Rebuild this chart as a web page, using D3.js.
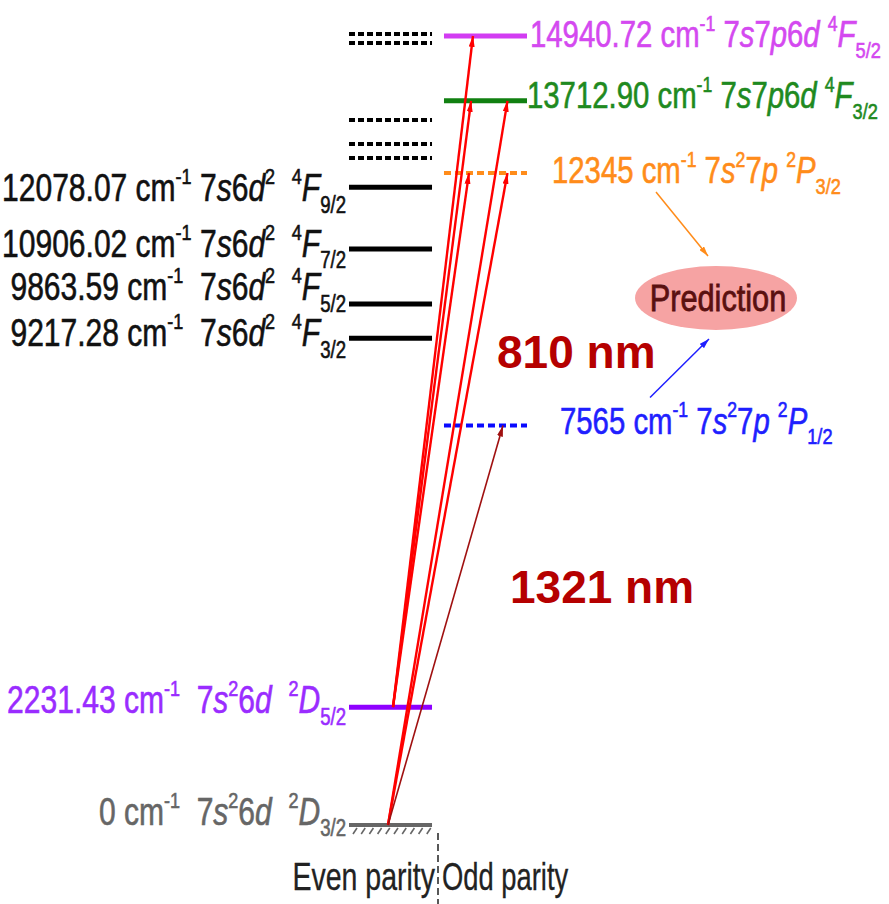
<!DOCTYPE html>
<html>
<head>
<meta charset="utf-8">
<script src="https://cdn.jsdelivr.net/npm/d3@7"></script>
<style>
  html, body { margin: 0; padding: 0; background: #fff; }
  svg { display: block; font-family: "Liberation Sans", Arial, Helvetica, sans-serif; }
  text { white-space: pre; }
</style>
</head>
<body>
<svg id="chart" width="889" height="904"></svg>
<script>
// ---- Level data (energies in cm^-1) ----
// Even-parity levels with term labels
const evenEnergies = [0, 2231.43, 9217.28, 9863.59, 10906.02, 12078.07];
const evenEnergyText = ["0", "2231.43", "9217.28", "9863.59", "10906.02", "12078.07"];
const evenTerms = [
  "  7*s*^{2}6*d*  ^{2}*D*_{3/2}",
  "  7*s*^{2}6*d*  ^{2}*D*_{5/2}",
  "  7*s*6*d*^{2}  ^{4}*F*_{3/2}",
  "  7*s*6*d*^{2}  ^{4}*F*_{5/2}",
  " 7*s*6*d*^{2}  ^{4}*F*_{7/2}",
  " 7*s*6*d*^{2}  ^{4}*F*_{9/2}"
];
// Further even-parity levels drawn without labels
const evenUnlabeled = [12630, 12895, 13350, 14808, 14978];

// Odd-parity levels; the two 7s²7p levels are predicted values
const oddEnergies = [7565, 12345, 13712.90, 14940.72];
const oddEnergyText = ["7565", "12345", "13712.90", "14940.72"];
const oddTerms = [
  " 7*s*^{2}7*p* ^{2}*P*_{1/2}",
  " 7*s*^{2}7*p* ^{2}*P*_{3/2}",
  " 7*s*7*p*6*d* ^{4}*F*_{3/2}",
  " 7*s*7*p*6*d* ^{4}*F*_{5/2}"
];
const oddPredicted = [true, true, false, false];

// Excitation steps (lower level -> upper level, cm^-1)
const transFrom = [2231.43, 2231.43, 2231.43, 0, 0, 0];
const transTo   = [14940.72, 13712.90, 12345, 13712.90, 12345, 7565];

// Wavelength annotations for the first-step lines
const wavelengthLabels = ["810 nm", "1321 nm"];
const parityLabels = ["Even parity", "Odd parity"];
const predictionLabel = "Prediction";

// ---- Styles ----
const evenColors = ["#666666", "#8f00ff", "#000", "#000", "#000", "#000"];
const evenTextColors = ["#666666", "#9a2cff", "#111", "#111", "#111", "#111"];
const evenLabelDy = [0, 6, 8, -4, 8, 14];
const oddColors = ["#0a0aff", "#ff8c1a", "#118011", "#d23cf2"];
const oddTextColors = ["#1f1fff", "#ff8c1a", "#1f8a1f", "#d449f0"];
const oddLabelDy = [8, 10, 7, 11];
const oddLabelX = [560, 552, 527, 530];

const svg = d3.select("#chart");
const y = d3.scaleLinear().domain([0, 14940.72]).range([825, 36]);
const col = d3.scaleBand().domain(["even", "odd"]).range([349, 527]).paddingInner(0.126);
const bw = col.bandwidth();
const ex0 = col("even"), ox0 = col("odd");

// Rich-text mini markup: *italic*, ^{sup}, _{sub}
function parseRich(str) {
  const segs = [];
  const re = /\*([^*]+)\*|\^\{([^}]+)\}|_\{([^}]+)\}|([^*^_]+)/g;
  let m;
  while ((m = re.exec(str))) {
    if (m[1]) segs.push({ t: m[1], it: true });
    else if (m[2]) segs.push({ t: m[2], pos: "sup" });
    else if (m[3]) segs.push({ t: m[3], pos: "sub" });
    else segs.push({ t: m[4] });
  }
  return segs;
}
function richText(parent, str, opt) {
  const F = opt.size;
  const g = parent.append("g")
    .attr("transform", `translate(${opt.x},${opt.y}) scale(${opt.sx},1)`);
  const t = g.append("text")
    .attr("text-anchor", opt.anchor || "start")
    .attr("font-size", F)
    .attr("fill", opt.color)
    .attr("stroke", opt.color)
    .attr("stroke-width", opt.weight == null ? 0.6 : opt.weight);
  let cur = 0;
  parseRich(str).forEach(s => {
    let target = 0, size = F;
    if (s.pos === "sup") { target = -0.45 * F; size = 0.6 * F; }
    if (s.pos === "sub") { target = 0.3 * F; size = 0.62 * F; }
    t.append("tspan")
      .attr("dy", target - cur)
      .attr("font-size", size)
      .attr("font-style", s.it ? "italic" : null)
      .text(s.t);
    cur = target;
  });
  return g;
}

// ---- Markers ----
const defs = svg.append("defs");
function marker(id, color, len, wid) {
  defs.append("marker").attr("id", id)
    .attr("markerUnits", "userSpaceOnUse")
    .attr("markerWidth", len).attr("markerHeight", wid)
    .attr("refX", len).attr("refY", wid / 2)
    .attr("orient", "auto")
    .append("path").attr("d", `M0,0L${len},${wid / 2}L0,${wid}Z`).attr("fill", color);
}
marker("ah-red", "#ff0000", 11, 6);
marker("ah-dred", "#a01010", 11, 6);
marker("ah-orange", "#ff8c1a", 10, 6);
marker("ah-blue", "#1f1fff", 10, 6);

// ---- Even-parity levels ----
evenUnlabeled.forEach(e => {
  svg.append("line")
    .attr("x1", ex0).attr("x2", ex0 + bw)
    .attr("y1", y(e)).attr("y2", y(e))
    .attr("stroke", "#000").attr("stroke-width", 4)
    .attr("stroke-dasharray", "6,3");
});
evenEnergies.forEach((e, i) => {
  svg.append("line")
    .attr("x1", ex0).attr("x2", ex0 + bw)
    .attr("y1", y(e)).attr("y2", y(e))
    .attr("stroke", evenColors[i]).attr("stroke-width", i === 0 ? 4 : 5);
  richText(svg, `${evenEnergyText[i]} cm^{-1}${evenTerms[i]}`, {
    x: ex0 - 3, y: y(e) + evenLabelDy[i], size: 38, sx: 0.79,
    anchor: "end", color: evenTextColors[i]
  });
});

// Ground level hatching
d3.range(ex0 + 4, ex0 + bw, 8.2).forEach(x => {
  svg.append("line")
    .attr("x1", x).attr("y1", y(0) + 9)
    .attr("x2", x + 4).attr("y2", y(0) + 3)
    .attr("stroke", "#666").attr("stroke-width", 1.6);
});

// ---- Odd-parity levels ----
oddEnergies.forEach((e, i) => {
  svg.append("line")
    .attr("x1", ox0).attr("x2", ox0 + bw)
    .attr("y1", y(e)).attr("y2", y(e))
    .attr("stroke", oddColors[i]).attr("stroke-width", oddPredicted[i] ? 4 : 5)
    .attr("stroke-dasharray", oddPredicted[i] ? "7,4" : null);
  richText(svg, `${oddEnergyText[i]} cm^{-1}${oddTerms[i]}`, {
    x: oddLabelX[i], y: y(e) + oddLabelDy[i], size: 36, sx: 0.815,
    anchor: "start", color: oddTextColors[i]
  });
});

// ---- Transitions ----
transFrom.forEach((f, i) => {
  const to = transTo[i];
  const x1 = ex0 + (f === 0 ? 39 : 44);
  let x2;
  if (f === 0) x2 = ox0 + (to < 10000 ? 59 : 63.5);
  else x2 = ox0 + 25 + (to - 12345) / 650;
  const dark = to < 10000;
  svg.append("line")
    .attr("x1", x1).attr("y1", y(f))
    .attr("x2", x2).attr("y2", y(to))
    .attr("stroke", dark ? "#a01010" : "#ff0000")
    .attr("stroke-width", dark ? 1.6 : 2.4)
    .attr("marker-end", dark ? "url(#ah-dred)" : "url(#ah-red)");
});

// Wavelength labels
svg.append("text").attr("x", 497).attr("y", 368)
  .attr("font-size", 46).attr("font-weight", "bold").attr("fill", "#b50000")
  .text(wavelengthLabels[0]);
svg.append("text").attr("x", 510).attr("y", 603)
  .attr("font-size", 46).attr("font-weight", "bold").attr("fill", "#b50000")
  .text(wavelengthLabels[1]);

// ---- Prediction callout ----
svg.append("ellipse").attr("cx", 716).attr("cy", 298).attr("rx", 81).attr("ry", 32)
  .attr("fill", "#f6a3a3");
richText(svg, predictionLabel, { x: 718, y: 311, size: 37, sx: 0.83, anchor: "middle", color: "#5a1010", weight: 0.8 });
svg.append("line").attr("x1", 656).attr("y1", y(12345) + 19)
  .attr("x2", 708).attr("y2", 256)
  .attr("stroke", "#ff8c1a").attr("stroke-width", 1.5).attr("marker-end", "url(#ah-orange)");
svg.append("line").attr("x1", 650).attr("y1", y(7565) - 28)
  .attr("x2", 709).attr("y2", 339)
  .attr("stroke", "#1f1fff").attr("stroke-width", 1.5).attr("marker-end", "url(#ah-blue)");

// ---- Parity divider and captions ----
const divX = (ex0 + bw + ox0) / 2;
svg.append("line").attr("x1", divX).attr("x2", divX).attr("y1", 833).attr("y2", 904)
  .attr("stroke", "#222").attr("stroke-width", 1.5).attr("stroke-dasharray", "7,4");
richText(svg, parityLabels[0], { x: divX - 3, y: 890, size: 38, sx: 0.75, anchor: "end", color: "#222", weight: 0.3 });
richText(svg, parityLabels[1], { x: divX + 4, y: 890, size: 38, sx: 0.72, anchor: "start", color: "#222", weight: 0.3 });
</script>
</body>
</html>
